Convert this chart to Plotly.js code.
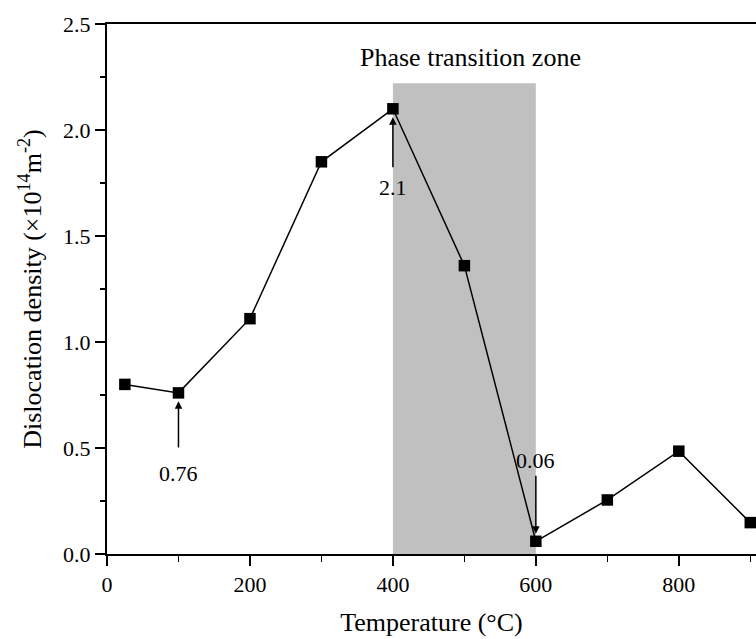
<!DOCTYPE html>
<html>
<head>
<meta charset="utf-8">
<script src="https://cdn.plot.ly/plotly-3.0.1.min.js"></script>
<style>html,body{margin:0;padding:0;background:#fff;}</style>
</head>
<body>
<div id="chart" style="width:756px;height:639px;"></div>
<script>
// Dislocation density versus annealing temperature
const temperature = [25, 100, 200, 300, 400, 500, 600, 700, 800, 900];
const density = [0.80, 0.76, 1.11, 1.85, 2.10, 1.36, 0.06, 0.255, 0.485, 0.148];

// Phase transition window
const zoneStart = 400;
const zoneEnd = 600;
const zoneTop = 2.22;
const zoneLabel = 'Phase transition zone';

// Called-out values
const calloutX = [100, 400, 600];
const calloutText = ['0.76', '2.1', '0.06'];

const serif = 'Liberation Serif, Times New Roman, serif';

const trace = {
  x: temperature,
  y: density,
  mode: 'lines+markers',
  type: 'scatter',
  line: {color: '#000', width: 1.5},
  marker: {symbol: 'square', size: 11.5, color: '#000'},
  cliponaxis: false,
  showlegend: false
};

// value label with an arrow running from the label to the marker
function callout(x, tipY, textY, text, gap) {
  return {x: x, y: tipY, ax: x, ay: textY, xref: 'x', yref: 'y', axref: 'x', ayref: 'y',
    text: text, showarrow: true, arrowhead: 2, arrowsize: 1, arrowwidth: 1.5, arrowcolor: '#000',
    startstandoff: gap, font: {family: serif, size: 22, color: '#000'}};
}

const ann = [
  callout(calloutX[0], 0.72, 0.38, calloutText[0], 12),
  callout(calloutX[1], 2.06, 1.73, calloutText[1], 6),
  callout(calloutX[2], 0.095, 0.44, calloutText[2], 1),
  {x: 508, y: 2.34, xref: 'x', yref: 'y', text: zoneLabel, showarrow: false,
    font: {family: serif, size: 26, color: '#000'}}
];

const layout = {
  width: 756,
  height: 639,
  margin: {l: 107, r: 0, t: 24, b: 85},
  paper_bgcolor: '#fff',
  plot_bgcolor: '#fff',
  font: {family: serif, color: '#000'},
  xaxis: {
    range: [0, 908],
    tickvals: [0, 200, 400, 600, 800],
    ticks: 'outside', ticklen: 10, tickwidth: 1.5, tickcolor: '#000',
    minor: {tickvals: [100, 300, 500, 700, 900], ticks: 'outside', ticklen: 6, tickwidth: 1.5, tickcolor: '#000'},
    showline: true, linewidth: 2, linecolor: '#000', mirror: true,
    showgrid: false, zeroline: false,
    tickfont: {family: serif, size: 22, color: '#000'},
    title: {text: 'Temperature (°C)', font: {family: serif, size: 26, color: '#000'}, standoff: 16}
  },
  yaxis: {
    range: [0, 2.5],
    dtick: 0.5, tick0: 0, tickformat: '.1f',
    ticks: 'outside', ticklen: 10, tickwidth: 1.5, tickcolor: '#000',
    minor: {dtick: 0.25, ticks: 'outside', ticklen: 5, tickwidth: 1.5, tickcolor: '#000'},
    showline: true, linewidth: 2, linecolor: '#000',
    showgrid: false, zeroline: false,
    tickfont: {family: serif, size: 22, color: '#000'},
    title: {text: 'Dislocation density (×10<sup>14</sup>m<sup>-2</sup>)', font: {family: serif, size: 26, color: '#000'}, standoff: 14}
  },
  shapes: [{
    type: 'rect', xref: 'x', yref: 'y', layer: 'below',
    x0: zoneStart, x1: zoneEnd, y0: 0, y1: zoneTop,
    fillcolor: '#c0c0c0', line: {width: 0}
  }],
  annotations: ann
};

Plotly.newPlot('chart', [trace], layout, {displayModeBar: false, staticPlot: true});
</script>
</body>
</html>
